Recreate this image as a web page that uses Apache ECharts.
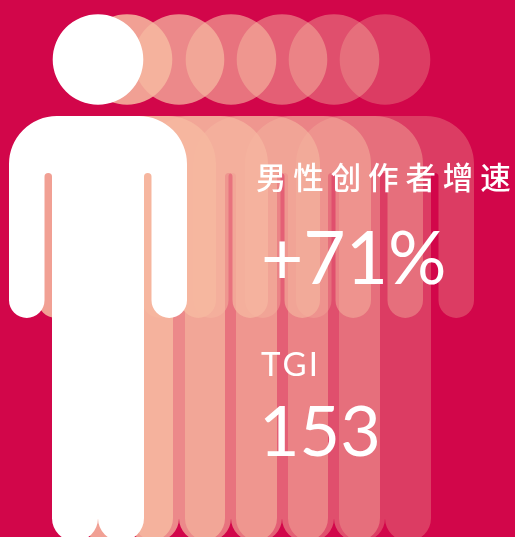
<!DOCTYPE html>
<html>
<head>
<meta charset="utf-8">
<style>html,body{margin:0;padding:0;background:#d2064a}#chart{width:515px;height:537px}</style>
<script src="https://cdn.jsdelivr.net/npm/echarts@6/dist/echarts.min.js"></script>
</head>
<body>
<div id="chart"></div>
<script>
/* 人物位置,从后往前画 */
var figureX = [385, 334, 282, 231, 179, 127, 98];
var figureY = [277.7, 277.7, 277.7, 277.7, 277.7, 277.7, 277.7];
var figureOpacity = [0.3, 0.41, 0.5, 0.61, 0.74, 0.87, 1];
var figureColor = ['#f6b8a0', '#f6b8a0', '#f6b8a0', '#f6b8a0', '#f6b8a0', '#f6b8a0', '#ffffff'];

var titleText = '男 性 创 作 者 增 速';
var growthText = '+71%';
var tgiLabel = 'T\u200aG\u200aI';
var tgiValue = '153';

var personPath = 'path://M0 286L0 150A48 48 0 0 1 48 101.8L130 101.8A48 48 0 0 1 178 150L178 286' +
	'A17.75 17.75 0 0 1 142.5 286L142.5 162.6A3.75 3.75 0 0 0 135 162.6L135 504' +
	'A23 23 0 0 1 89 504A23 23 0 0 1 43 504L43 162.6A3.75 3.75 0 0 0 35.5 162.6L35.5 286' +
	'A17.75 17.75 0 0 1 0 286Z' +
	'M43.7 45.3A45.3 45.3 0 1 1 134.3 45.3A45.3 45.3 0 1 1 43.7 45.3Z';

var points = [];
for (var i = 0; i < figureX.length; i++) {
	points.push({
		value: [figureX[i], figureY[i]],
		itemStyle: {color: figureColor[i], opacity: figureOpacity[i]}
	});
}

var chart = echarts.init(document.getElementById('chart'));
var option = {
	backgroundColor: '#d2064a',
	animation: false,
	grid: {left: 0, right: 0, top: 0, bottom: 0},
	xAxis: {type: 'value', min: 0, max: 515, show: false},
	yAxis: {type: 'value', min: 0, max: 537, inverse: true, show: false},
	series: [{
		type: 'scatter',
		silent: true,
		clip: false,
		symbol: personPath,
		symbolSize: [178, 527],
		data: points
	}],
	graphic: [
		{type: 'text', left: 256, top: 162, z: 10, silent: true, style: {text: titleText, fill: '#fff', font: '500 30.5px "Noto Sans CJK SC"'}},
		{type: 'text', left: 261, top: 224, z: 10, silent: true, style: {text: growthText, fill: '#fff', font: '400 73px Lato'}},
		{type: 'text', left: 261, top: 349, z: 10, silent: true, style: {text: tgiLabel, fill: '#fff', font: '400 33px Lato'}},
		{type: 'text', left: 259, top: 398, z: 10, silent: true, style: {text: tgiValue, fill: '#fff', font: '400 70px Lato'}}
	]
};
chart.setOption(option);
</script>
</body>
</html>
